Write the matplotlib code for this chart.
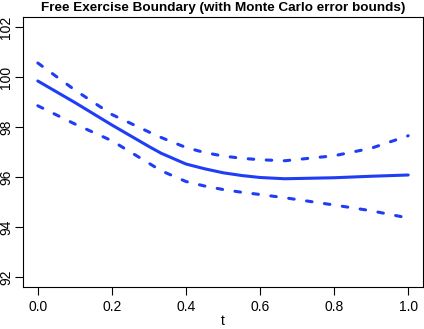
import numpy as np
import matplotlib
matplotlib.use("Agg")
import matplotlib.pyplot as plt

# Datos: frontera de ejercicio y cotas de error Monte Carlo
t = [0.0, 0.1, 0.2, 0.3, 0.333, 0.4, 0.45, 0.5, 0.55, 0.6, 0.667, 0.8, 0.9, 1.0]
frontera = [99.84, 98.98, 98.08, 97.22, 96.95, 96.52, 96.33, 96.17, 96.06, 95.98, 95.93, 95.97, 96.03, 96.08]
cota_sup = [100.56, 99.48, 98.5, 97.8, 97.58, 97.18, 96.98, 96.84, 96.75, 96.69, 96.65, 96.85, 97.15, 97.65]
cota_inf = [98.85, 98.12, 97.45, 96.55, 96.25, 95.82, 95.64, 95.5, 95.39, 95.3, 95.17, 94.88, 94.65, 94.36]

xticks = [0.0, 0.2, 0.4, 0.6, 0.8, 1.0]
yticks = [92, 94, 96, 98, 100, 102]

plt.rcParams['font.family'] = ['Liberation Sans', 'DejaVu Sans']
plt.rcParams['lines.scale_dashes'] = False

color = '#1f3df5'

fig = plt.figure(figsize=(4.24, 3.29), dpi=100)
ax = fig.add_axes([23/424, 42/329, 400/424, 270/329])

ax.plot(t, frontera, color=color, lw=2.2, solid_capstyle='round')
for cota in (cota_sup, cota_inf):
    ax.plot(t, cota, color=color, lw=2.2, linestyle=(0, (4, 9)), dash_capstyle='round')

ax.set_xlim(-0.04, 1.04)
ax.set_ylim(91.6, 102.4)
ax.set_xticks(xticks)
ax.set_xticklabels([f"{v:.1f}" for v in xticks])
ax.set_yticks(yticks)
ax.set_yticklabels([str(v) for v in yticks], rotation=90, va='center')
ax.tick_params(length=5.5, width=0.8, labelsize=10)
ax.tick_params(axis='y', pad=1.5)
ax.tick_params(axis='x', pad=4)
for s in ax.spines.values():
    s.set_linewidth(0.8)

ax.set_xlabel('t', fontsize=10, labelpad=0)
ax.set_title('Free Exercise Boundary (with Monte Carlo error bounds)',
             fontsize=9.7, fontweight='bold', pad=4)

fig.savefig('out.png', dpi=100)
